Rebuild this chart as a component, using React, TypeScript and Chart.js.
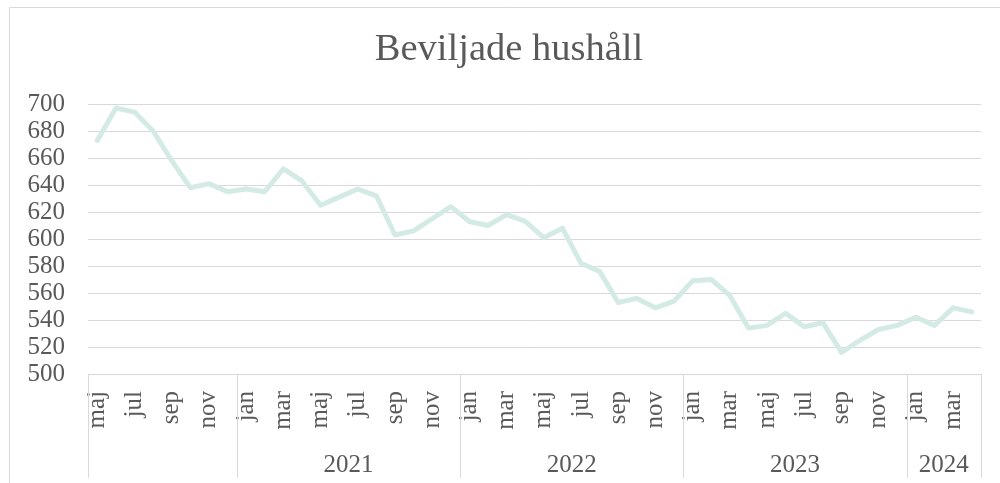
import React, { useEffect, useRef } from "react";
import { Chart, registerables } from "chart.js";

Chart.register(...registerables);

const monthNames = ["jan", "feb", "mar", "apr", "maj", "jun", "jul", "aug", "sep", "okt", "nov", "dec"];
const years = ["", "2021", "2022", "2023", "2024"];
const monthsPerYear = [8, 12, 12, 12, 4];
const firstMonthIndex = 4; // maj
const values = [
  673, 697, 694, 680, 658, 638, 641, 635,
  637, 635, 652, 643, 625, 631, 637, 632, 603, 606, 615, 624,
  613, 610, 618, 613, 601, 608, 582, 576, 553, 556, 549, 554,
  569, 570, 558, 534, 536, 545, 535, 538, 516, 525, 533, 536,
  542, 536, 549, 546,
];
const yTicks = { min: 500, max: 700, step: 20 };
const title = "Beviljade hushåll";

const monthLabels: string[] = values.map((_, i) => monthNames[(firstMonthIndex + i) % 12]);

const FONT = "'Liberation Serif', 'Times New Roman', serif";
const TEXT = "#595959";
const GRID = "#d9d9d9";

const decorPlugin = {
  id: "decor",
  afterDraw(chart: any) {
    const { ctx, chartArea, width, height } = chart;
    const xs = chart.scales.x;
    ctx.save();
    // outer border
    ctx.strokeStyle = GRID;
    ctx.lineWidth = 1;
    ctx.beginPath();
    ctx.moveTo(9.5, height);
    ctx.lineTo(9.5, 7.5);
    ctx.lineTo(width, 7.5);
    ctx.stroke();
    // title
    ctx.fillStyle = TEXT;
    ctx.font = `38.5px ${FONT}`;
    ctx.textAlign = "center";
    ctx.textBaseline = "alphabetic";
    ctx.fillText(title, 509, 60);
    // year groups
    const bottom = 478;
    let start = 0;
    const bounds: number[] = [chartArea.left];
    const centers: number[] = [];
    monthsPerYear.forEach((n, g) => {
      const end = start + n;
      const left = g === 0 ? chartArea.left : (xs.getPixelForValue(start - 1) + xs.getPixelForValue(start)) / 2;
      const right = end >= values.length ? chartArea.right : (xs.getPixelForValue(end - 1) + xs.getPixelForValue(end)) / 2;
      bounds.push(right);
      centers.push((left + right) / 2);
      start = end;
    });
    ctx.beginPath();
    bounds.forEach((b) => {
      const x = Math.round(b) + 0.5;
      ctx.moveTo(x, chartArea.bottom);
      ctx.lineTo(x, bottom);
    });
    ctx.stroke();
    ctx.font = `25px ${FONT}`;
    ctx.textAlign = "center";
    years.forEach((y, g) => {
      if (y) ctx.fillText(y, centers[g], 472);
    });
    ctx.restore();
  },
};

export default function App() {
  const ref = useRef<HTMLCanvasElement | null>(null);
  useEffect(() => {
    document.body.style.margin = "0";
    const canvas = ref.current!;
    const chart = new Chart(canvas, {
      type: "line",
      data: {
        labels: monthLabels,
        datasets: [
          {
            data: values,
            borderColor: "#d4ebe5",
            borderWidth: 5,
            pointRadius: 0,
            tension: 0,
            borderJoinStyle: "round",
            borderCapStyle: "round",
          },
        ],
      },
      options: {
        responsive: false,
        animation: false,
        devicePixelRatio: 1,
        layout: { padding: { top: 104, right: 19, left: 0, bottom: 0 } },
        plugins: { legend: { display: false }, title: { display: false }, tooltip: { enabled: false } },
        scales: {
          x: {
            type: "category",
            offset: true,
            grid: { display: false, drawTicks: false },
            border: { display: true, color: GRID, width: 1 },
            ticks: {
              autoSkip: false,
              minRotation: 90,
              maxRotation: 90,
              padding: 17,
              color: TEXT,
              font: { family: FONT, size: 25 },
              callback: (_v: any, i: number) => (i % 2 === 0 ? monthLabels[i] : ""),
            },
            afterFit: (s: any) => {
              s.height = 109;
              s.paddingLeft = 0;
              s.paddingRight = 0;
            },
          },
          y: {
            min: yTicks.min,
            max: yTicks.max,
            grid: { color: GRID, lineWidth: 1, drawTicks: false },
            border: { display: false },
            ticks: {
              stepSize: yTicks.step,
              autoSkip: false,
              padding: 23,
              color: TEXT,
              font: { family: FONT, size: 25 },
            },
            afterFit: (s: any) => {
              s.width = 88;
              s.paddingTop = 0;
              s.paddingBottom = 0;
            },
          },
        },
      },
      plugins: [decorPlugin],
    });
    return () => chart.destroy();
  }, []);
  return <canvas ref={ref} width={1000} height={483} style={{ display: "block" }} />;
}
